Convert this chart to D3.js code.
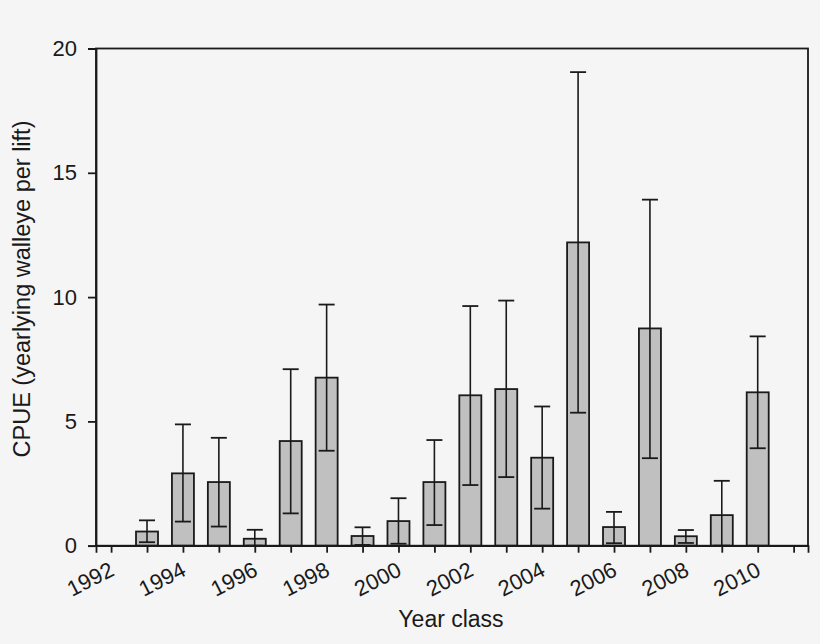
<!DOCTYPE html>
<html><head><meta charset="utf-8">
<script src="https://cdn.jsdelivr.net/npm/d3@7"></script>
<style>
body{margin:0;background:#f5f5f5;}
svg{display:block;font-family:"Liberation Sans",Arial,sans-serif;}
</style></head>
<body><svg id="c" width="820" height="644"></svg>
<script>
const years = [1993,1994,1995,1996,1997,1998,1999,2000,2001,2002,2003,2004,2005,2006,2007,2008,2009,2010];
const cpue  = [0.57,2.91,2.56,0.28,4.21,6.76,0.39,0.99,2.56,6.05,6.30,3.54,12.2,0.75,8.74,0.38,1.23,6.17];
const upper = [1.02,4.88,4.34,0.64,7.10,9.70,0.74,1.91,4.25,9.64,9.86,5.60,19.05,1.36,13.92,0.63,2.61,8.42];
const lower = [0.14,0.97,0.77,0.0,1.30,3.82,0.03,0.08,0.83,2.44,2.76,1.49,5.35,0.10,3.52,0.11,0.0,3.92];
const xTicks = d3.range(1992,2012);
const yTicks = [0,5,10,15,20];

const svg = d3.select("#c");
const L=96,R=808,T=48.5,B=545.7;
const x = d3.scaleLinear().domain([1991.58,2011.40]).range([L,R]);
const y = d3.scaleLinear().domain([0,20]).range([B,T]);
const bw = 22, cw = 16;
const ink = "#1a1a1a";

const g = svg.append("g");
g.selectAll("rect.bar").data(years).join("rect")
 .attr("x",(d)=>x(d)-bw/2).attr("width",bw)
 .attr("y",(d,i)=>y(cpue[i])).attr("height",(d,i)=>y(0)-y(cpue[i]))
 .attr("fill","#c0c0c0").attr("stroke",ink).attr("stroke-width",1.8);
const eb = g.selectAll("g.eb").data(years).join("g").attr("stroke",ink).attr("stroke-width",1.6);
eb.append("line").attr("x1",d=>x(d)).attr("x2",d=>x(d))
  .attr("y1",(d,i)=>y(upper[i])).attr("y2",(d,i)=>y(lower[i]));
eb.append("line").attr("x1",d=>x(d)-cw/2).attr("x2",d=>x(d)+cw/2)
  .attr("y1",(d,i)=>y(upper[i])).attr("y2",(d,i)=>y(upper[i])).attr("stroke-width",1.8);
eb.append("line").attr("x1",d=>x(d)-cw/2).attr("x2",d=>x(d)+cw/2)
  .attr("y1",(d,i)=>y(lower[i])).attr("y2",(d,i)=>y(lower[i])).attr("stroke-width",1.8);

svg.append("rect").attr("x",L).attr("y",T).attr("width",R-L).attr("height",B-T)
  .attr("fill","none").attr("stroke",ink).attr("stroke-width",1.8);

const ya = svg.append("g").attr("transform",`translate(${L},0)`)
  .call(d3.axisLeft(y).tickValues(yTicks).tickSize(8).tickPadding(11).tickFormat(d3.format("d")));
ya.select(".domain").attr("stroke",ink).attr("stroke-width",1.8);
ya.selectAll(".tick line").attr("stroke",ink).attr("stroke-width",1.8);
ya.selectAll("text").attr("font-size",22).attr("fill",ink).attr("font-family","Liberation Sans, Arial, sans-serif");

const xa = svg.append("g").attr("transform",`translate(0,${B})`)
  .call(d3.axisBottom(x).tickValues(xTicks).tickSize(7).tickFormat(d=> d%2===0 ? String(d) : ""));
xa.select(".domain").attr("stroke",ink).attr("stroke-width",1.8);
xa.selectAll(".tick line").attr("stroke",ink).attr("stroke-width",1.8);
xa.selectAll("text").attr("font-size",22).attr("fill",ink)
  .attr("font-family","Liberation Sans, Arial, sans-serif")
  .attr("text-anchor","end").attr("dy",0).attr("y",0)
  .attr("transform","translate(4,29) rotate(-27)");

svg.append("text").attr("x",451).attr("y",627).attr("text-anchor","middle")
  .attr("font-size",23).attr("fill",ink).text("Year class");
svg.append("text").attr("transform",`translate(30,289) rotate(-90)`)
  .attr("text-anchor","middle").attr("font-size",23.5).attr("fill",ink)
  .text("CPUE (yearlying walleye per lift)");
</script></body></html>
